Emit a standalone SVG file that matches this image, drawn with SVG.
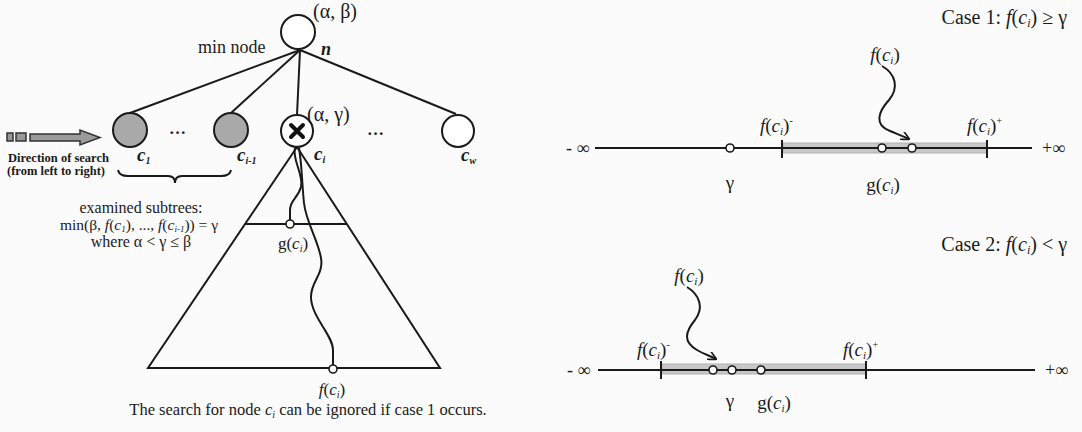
<svg xmlns="http://www.w3.org/2000/svg" width="1082" height="432" viewBox="0 0 1082 432">
<defs>
<style>
text{font-family:"Liberation Serif","Times New Roman",serif;fill:#1a1a1a;}
.i{font-style:italic;}
.ln{stroke:#1a1a1a;stroke-width:2;fill:none;}
.node{stroke:#1a1a1a;stroke-width:2;fill:#fff;}
.done{stroke:#1a1a1a;stroke-width:2;fill:#a9a9a9;}
.pt{stroke:#1a1a1a;stroke-width:1.6;fill:#fbfbfb;}
.band{fill:#c8c8c8;stroke:#b0b0b0;stroke-width:1;}
</style>
<marker id="ah" viewBox="0 0 10 10" refX="9" refY="5" markerWidth="9" markerHeight="9" orient="auto" markerUnits="userSpaceOnUse">
<path d="M0,0 L10,5 L0,10" fill="none" stroke="#1a1a1a" stroke-width="1.8"/>
</marker>
</defs>
<rect width="1082" height="432" fill="#fbfbfb"/>

<g id="connectors">
<line class="ln" x1="300" y1="50" x2="130" y2="113"/>
<line class="ln" x1="300" y1="50" x2="231" y2="113"/>
<line class="ln" x1="300" y1="50" x2="297" y2="115"/>
<line class="ln" x1="300" y1="50" x2="456" y2="114"/>
</g>

<g id="node-n">
<circle class="node" cx="298" cy="32" r="17"/>
<text x="313" y="18" font-size="20">(α, β)</text>
<text class="i" x="321" y="55" font-size="18" font-weight="bold">n</text>
<text x="198" y="53" font-size="18">min node</text>
</g>

<g id="node-c1">
<circle class="done" cx="130" cy="130" r="17"/>
<text class="i" x="137" y="161" font-size="19" font-weight="bold">c<tspan font-size="10" dy="3">1</tspan></text>
</g>
<text x="169" y="134" font-size="17" font-weight="bold">…</text>

<g id="node-ci-1">
<circle class="done" cx="231" cy="130" r="17"/>
<text class="i" x="237" y="161" font-size="19" font-weight="bold">c<tspan font-size="10" dy="3">i-1</tspan></text>
</g>

<g id="node-ci">
<circle class="node" cx="297" cy="131" r="16"/>
<path d="M291,125 L303,137 M303,125 L291,137" stroke="#111" stroke-width="4" stroke-linecap="round"/>
<text x="307" y="121" font-size="20">(α, γ)</text>
<text class="i" x="314" y="160" font-size="19" font-weight="bold">c<tspan font-size="10" dy="3">i</tspan></text>
</g>
<text x="367" y="135" font-size="17" font-weight="bold">…</text>

<g id="node-cw">
<circle class="node" cx="458" cy="131" r="16"/>
<text class="i" x="461" y="161" font-size="19" font-weight="bold">c<tspan font-size="10" dy="3">w</tspan></text>
</g>

<g id="search-direction">
<rect x="7" y="133" width="6" height="8" fill="#999" stroke="#333" stroke-width="1.5"/>
<rect x="16" y="133" width="10" height="8" fill="#999" stroke="#333" stroke-width="1.5"/>
<path d="M30,134 L80,134 L80,130 L100,137.5 L80,145 L80,141 L30,141 Z" fill="#9a9a9a" stroke="#333" stroke-width="1.5"/>
<text x="8" y="162" font-size="12.5" font-weight="bold">Direction of search</text>
<text x="7" y="175" font-size="12.5" font-weight="bold">(from left to right)</text>
</g>

<g id="examined">
<path class="ln" d="M118,170 Q119,176 128,176 L168,176 Q175,176 175,183 Q175,176 182,176 L221,176 Q230,176 231,170"/>
<text x="141" y="213" font-size="16" text-anchor="middle">examined subtrees:</text>
<text x="139" y="230" font-size="15.5" text-anchor="middle">min(β, <tspan class="i">f</tspan>(<tspan class="i">c</tspan><tspan font-size="9" dy="2" class="i">1</tspan><tspan dy="-2">), ..., </tspan><tspan class="i">f</tspan>(<tspan class="i">c</tspan><tspan font-size="9" dy="2" class="i">i-1</tspan><tspan dy="-2">)) = γ</tspan></text>
<text x="141" y="247" font-size="16" text-anchor="middle">where α &lt; γ ≤ β</text>
</g>

<g id="subtree">
<path class="ln" d="M297,147 L148,368 L440,368 Z"/>
<line class="ln" x1="245" y1="224" x2="347" y2="224"/>
<path class="ln" d="M295,148 C292,160 304,175 301,187 C298,198 290,200 290,210 L290,220"/>
<path class="ln" d="M299,148 C302,165 302,185 304,203 C306,222 318,240 321,258 C324,275 310,282 311,298 C312,318 333,335 333,350 L333,366"/>
<circle class="pt" cx="290" cy="224" r="4"/>
<circle class="pt" cx="333" cy="369" r="4"/>
<text x="293" y="249" font-size="17" text-anchor="middle">g(<tspan class="i">c</tspan><tspan font-size="10" dy="3" class="i">i</tspan><tspan dy="-3">)</tspan></text>
<text x="332" y="395" font-size="17" text-anchor="middle"><tspan class="i">f</tspan>(<tspan class="i">c</tspan><tspan font-size="10" dy="3" class="i">i</tspan><tspan dy="-3">)</tspan></text>
</g>

<text x="308" y="415" font-size="16.5" text-anchor="middle">The search for node <tspan class="i">c</tspan><tspan font-size="10" dy="3" class="i">i</tspan><tspan dy="-3"> can be ignored if case 1 occurs.</tspan></text>

<g id="case1">
<text x="1067" y="24" font-size="20" text-anchor="end">Case 1: <tspan class="i">f</tspan>(<tspan class="i">c</tspan><tspan font-size="12" dy="3" class="i">i</tspan><tspan dy="-3">) ≥ γ</tspan></text>
<rect class="band" x="783" y="143" width="204" height="10"/>
<line class="ln" x1="595" y1="148" x2="1032" y2="148"/>
<line class="ln" x1="782" y1="140" x2="782" y2="158"/>
<line class="ln" x1="987" y1="140" x2="987" y2="158"/>
<circle class="pt" cx="730" cy="148" r="4"/>
<circle class="pt" cx="882" cy="148" r="4"/>
<circle class="pt" cx="912" cy="148" r="4"/>
<text x="566" y="154" font-size="18">- ∞</text>
<text x="1042" y="154" font-size="18">+∞</text>
<text x="730" y="189" font-size="19" text-anchor="middle">γ</text>
<text x="883" y="191" font-size="19" text-anchor="middle">g(<tspan class="i">c</tspan><tspan font-size="11" dy="3" class="i">i</tspan><tspan dy="-3">)</tspan></text>
<text x="760" y="132" font-size="19"><tspan class="i">f</tspan>(<tspan class="i">c</tspan><tspan font-size="11" dy="3" class="i">i</tspan><tspan dy="-3">)</tspan><tspan font-size="10" dy="-8">-</tspan></text>
<text x="967" y="132" font-size="19"><tspan class="i">f</tspan>(<tspan class="i">c</tspan><tspan font-size="11" dy="3" class="i">i</tspan><tspan dy="-3">)</tspan><tspan font-size="10" dy="-8">+</tspan></text>
<text x="885" y="61" font-size="19" text-anchor="middle"><tspan class="i">f</tspan>(<tspan class="i">c</tspan><tspan font-size="11" dy="3" class="i">i</tspan><tspan dy="-3">)</tspan></text>
<path class="ln" marker-end="url(#ah)" d="M882,66 C896,74 899,88 889,100 C878,112 874,125 890,131 C897,134 903,136 909,139"/>
</g>

<g id="case2">
<text x="1067" y="251" font-size="20" text-anchor="end">Case 2: <tspan class="i">f</tspan>(<tspan class="i">c</tspan><tspan font-size="12" dy="3" class="i">i</tspan><tspan dy="-3">) &lt; γ</tspan></text>
<rect class="band" x="662" y="364" width="204" height="10"/>
<line class="ln" x1="598" y1="370" x2="1035" y2="370"/>
<line class="ln" x1="661" y1="361" x2="661" y2="379"/>
<line class="ln" x1="866" y1="361" x2="866" y2="379"/>
<circle class="pt" cx="713" cy="370" r="4"/>
<circle class="pt" cx="732" cy="370" r="4"/>
<circle class="pt" cx="761" cy="370" r="4"/>
<text x="567" y="376" font-size="18">- ∞</text>
<text x="1045" y="376" font-size="18">+∞</text>
<text x="730" y="407" font-size="19" text-anchor="middle">γ</text>
<text x="774" y="409" font-size="19" text-anchor="middle">g(<tspan class="i">c</tspan><tspan font-size="11" dy="3" class="i">i</tspan><tspan dy="-3">)</tspan></text>
<text x="637" y="356" font-size="19"><tspan class="i">f</tspan>(<tspan class="i">c</tspan><tspan font-size="11" dy="3" class="i">i</tspan><tspan dy="-3">)</tspan><tspan font-size="10" dy="-8">-</tspan></text>
<text x="843" y="356" font-size="19"><tspan class="i">f</tspan>(<tspan class="i">c</tspan><tspan font-size="11" dy="3" class="i">i</tspan><tspan dy="-3">)</tspan><tspan font-size="10" dy="-8">+</tspan></text>
<text x="689" y="282" font-size="19" text-anchor="middle"><tspan class="i">f</tspan>(<tspan class="i">c</tspan><tspan font-size="11" dy="3" class="i">i</tspan><tspan dy="-3">)</tspan></text>
<path class="ln" marker-end="url(#ah)" d="M687,287 C700,295 704,308 695,320 C685,332 683,342 697,350 C704,354 710,356 716,359"/>
</g>
</svg>
